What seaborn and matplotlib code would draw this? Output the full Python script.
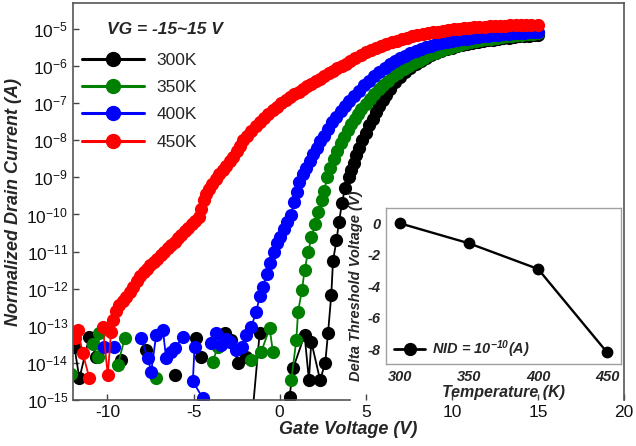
import numpy as np
import pandas as pd
import matplotlib
matplotlib.use('Agg')
import matplotlib.pyplot as plt
from matplotlib.lines import Line2D
from matplotlib.ticker import NullLocator
import seaborn as sns

nan = np.nan

# Transfer curves: gate voltage (V) and log10 of normalized drain current (A)
# nan marks a break in the drawn line (noise floor points)
v300 = [-11.92, -11.63, -11.05, -10.66, nan, -9.2, nan, -7.75, nan, -6.1, nan, -4.84, -4.55, nan,
        -3.2, -2.81, -2.42, -1.94, nan, -1.7, -1.16, nan,
        0.58, 0.78, 1.45, 1.7, 1.84, 2.35, 2.65, 2.81, 3.0, 3.1, 3.3, 3.45, 3.62, 3.8, 4.0, 4.15,
        4.3, 4.45, 4.6, 4.8, 5.0, 5.2, 5.4, 5.6, 5.8, 6.0, 6.2, 6.4, 6.7, 7.0, 7.3, 7.6, 7.9, 8.2,
        8.5, 8.8, 9.1, 9.4, 9.7, 10.0, 10.3, 10.6, 10.9, 11.2, 11.5, 11.8, 12.1, 12.4, 12.7, 13.0,
        13.3, 13.6, 13.9, 14.2, 14.5, 14.8, 15.0]
e300 = [-13.56, -14.42, -13.29, -13.83, nan, -13.92, nan, -13.65, nan, -14.33, nan, -13.34, -13.83, nan,
        -13.2, -13.38, -14.01, -13.83, nan, -16.0, -13.2, nan,
        -14.91, -14.15, -13.25, -14.46, -13.43, -14.46, -14.0, -13.2, -12.17, -11.25, -10.7, -10.2,
        -9.7, -9.28, -9.0, -8.8, -8.6, -8.4, -8.22, -8.0, -7.8, -7.6, -7.42, -7.25, -7.08, -6.92,
        -6.77, -6.62, -6.44, -6.29, -6.16, -6.04, -5.94, -5.85, -5.77, -5.7, -5.64, -5.59, -5.54,
        -5.5, -5.46, -5.43, -5.4, -5.37, -5.35, -5.33, -5.31, -5.29, -5.27, -5.25, -5.23, -5.21,
        -5.2, -5.19, -5.18, -5.17, -5.16]

v350 = [-12.1, nan, -10.85, -10.56, -10.47, nan, -9.4, -9.0, nan, -7.17, nan, -3.88, -3.59, nan,
        -1.65, -1.07, -0.58, -0.39, nan,
        0.68, 0.97, 1.07, 1.3, 1.45, 1.65, 1.85, 2.05, 2.25, 2.45, 2.6, 2.75, 2.95, 3.15, 3.35, 3.55,
        3.75, 3.95, 4.15, 4.35, 4.55, 4.75, 5.0, 5.25, 5.5, 5.75, 6.0, 6.3, 6.6, 6.9, 7.2, 7.5, 7.8,
        8.1, 8.4, 8.7, 9.0, 9.3, 9.6, 9.9, 10.2, 10.5, 10.8, 11.1, 11.4, 11.7, 12.0, 12.3, 12.6,
        12.9, 13.2, 13.5, 13.8, 14.1, 14.4, 14.7, 15.0]
e350 = [-14.3, nan, -13.5, -13.83, -13.2, nan, -14.06, -13.34, nan, -14.42, nan, -13.97, -13.56, nan,
        -13.92, -13.7, -13.07, -13.7, nan,
        -14.46, -13.38, -12.62, -12.03, -11.5, -11.02, -10.62, -10.26, -9.94, -9.62, -9.36, -9.0,
        -8.75, -8.5, -8.28, -8.08, -7.9, -7.72, -7.56, -7.42, -7.28, -7.16, -7.02, -6.88, -6.75,
        -6.63, -6.52, -6.39, -6.28, -6.18, -6.09, -6.0, -5.92, -5.85, -5.78, -5.71, -5.65, -5.6,
        -5.55, -5.5, -5.46, -5.42, -5.39, -5.36, -5.33, -5.3, -5.28, -5.26, -5.24, -5.22, -5.2,
        -5.18, -5.17, -5.15, -5.14, -5.13, -5.12]

v400 = [-10.2, -9.6, nan, -8.04, -7.65, -7.46, -7.17, -6.78, -6.59, -6.3, -6.05, -5.62, nan,
        -4.94, -5.04, -4.46, nan,
        -3.97, -3.68, -3.39, -3.1, -2.91, -2.52, -2.2, -1.94, -1.65, -1.36, -1.16, -0.97, -0.75,
        -0.55, -0.35, -0.15, 0.05, 0.25, 0.45, 0.65, 0.85, 1.0, 1.15, 1.35, 1.55, 1.75, 1.95, 2.15,
        2.35, 2.55, 2.8, 3.05, 3.3, 3.55, 3.8, 4.05, 4.3, 4.6, 4.9, 5.2, 5.5, 5.8, 6.1, 6.4, 6.7,
        7.0, 7.3, 7.6, 7.9, 8.2, 8.5, 8.8, 9.1, 9.4, 9.7, 10.0, 10.3, 10.6, 10.9, 11.2, 11.5, 11.8,
        12.1, 12.4, 12.7, 13.0, 13.3, 13.6, 13.9, 14.2, 14.5, 14.8, 15.0]
e400 = [-13.56, -13.56, nan, -13.34, -13.88, -14.24, -13.25, -13.11, -13.88, -13.7, -13.6, -13.29, nan,
        -13.56, -14.5, -14.95, nan,
        -13.47, -13.2, -13.52, -13.35, -13.43, -13.65, -13.56, -13.25, -13.02, -12.64, -12.2,
        -11.95, -11.6, -11.3, -11.0, -10.78, -10.6, -10.4, -10.2, -10.02, -9.65, -9.4, -9.12,
        -8.92, -8.75, -8.55, -8.37, -8.2, -8.03, -7.88, -7.7, -7.52, -7.36, -7.21, -7.07, -6.93,
        -6.8, -6.66, -6.52, -6.39, -6.27, -6.15, -6.04, -5.95, -5.87, -5.79, -5.72, -5.65, -5.59,
        -5.54, -5.49, -5.45, -5.41, -5.38, -5.35, -5.32, -5.3, -5.28, -5.26, -5.24, -5.22, -5.2,
        -5.18, -5.17, -5.15, -5.14, -5.13, -5.12, -5.11, -5.1, -5.09, -5.08, -5.07]

v450 = [-11.9, -11.72, -11.43, -11.05, nan, -10.27, -9.98, -9.79, -9.69, -9.5, -9.3, -9.1, -8.9,
        -8.7, -8.5, -8.3, -8.1, -7.9, -7.7, -7.5, -7.3, -7.1, -6.9, -6.7, -6.5, -6.3, -6.1, -5.9,
        -5.7, -5.5, -5.3, -5.1, -4.9, -4.7, -4.55, -4.4, -4.25, -4.1, -3.9, -3.7, -3.5, -3.3, -3.1,
        -2.9, -2.7, -2.5, -2.3, -2.1, -1.9, -1.65, -1.4, -1.15, -0.9, -0.65, -0.4, -0.15, 0.1, 0.35,
        0.6, 0.85, 1.1, 1.35, 1.6, 1.85, 2.1, 2.35, 2.6, 2.85, 3.1, 3.35, 3.6, 3.85, 4.1, 4.4, 4.7,
        5.0, 5.3, 5.6, 5.9, 6.2, 6.5, 6.8, 7.1, 7.4, 7.7, 8.0, 8.3, 8.6, 8.9, 9.2, 9.5, 9.8, 10.1,
        10.4, 10.7, 11.0, 11.3, 11.6, 11.9, 12.2, 12.5, 12.8, 13.1, 13.4, 13.7, 14.0, 14.3, 14.6, 15.0]
e450 = [-13.33, -13.11, -13.74, -14.41, nan, -13.02, -14.33, -13.16, -12.84, -12.6, -12.45, -12.33,
        -12.22, -12.1, -11.95, -11.8, -11.67, -11.56, -11.46, -11.37, -11.28, -11.19, -11.1, -11.0,
        -10.91, -10.82, -10.73, -10.64, -10.55, -10.45, -10.36, -10.26, -10.17, -10.08, -9.85, -9.6,
        -9.45, -9.32, -9.18, -9.04, -8.92, -8.8, -8.68, -8.56, -8.44, -8.3, -8.15, -8.0, -7.88,
        -7.75, -7.62, -7.5, -7.39, -7.28, -7.18, -7.09, -7.0, -6.92, -6.84, -6.76, -6.69, -6.62,
        -6.55, -6.48, -6.41, -6.34, -6.27, -6.2, -6.13, -6.06, -6.0, -5.94, -5.87, -5.79, -5.71,
        -5.63, -5.57, -5.51, -5.46, -5.41, -5.36, -5.32, -5.28, -5.24, -5.2, -5.17, -5.14, -5.11,
        -5.09, -5.07, -5.05, -5.03, -5.01, -4.99, -4.98, -4.97, -4.96, -4.95, -4.94, -4.93, -4.92,
        -4.91, -4.91, -4.9, -4.9, -4.89, -4.89, -4.88, -4.88]

temp_labels = ['300K', '350K', '400K', '450K']
colors = ['#000000', '#008000', '#0000ff', '#ff0000']
ytick_vals = [1e-15, 1e-14, 1e-13, 1e-12, 1e-11, 1e-10, 1e-9, 1e-8, 1e-7, 1e-6, 1e-5]

# inset: threshold voltage shift vs temperature
temps = [300, 350, 400, 450]
dvth = [0, -1.27, -2.9, -8.2]

sns.set_theme(style='ticks')
plt.rcParams['font.family'] = ['Liberation Sans', 'DejaVu Sans']
plt.rcParams['mathtext.fontset'] = 'custom'
plt.rcParams['mathtext.rm'] = 'Liberation Sans'
plt.rcParams['mathtext.it'] = 'Liberation Sans:italic'
plt.rcParams['mathtext.bf'] = 'Liberation Sans:bold'
plt.rcParams['axes.unicode_minus'] = False

# long-form table, one unit per unbroken line piece
frames = []
for lab, v, e in zip(temp_labels, [v300, v350, v400, v450], [e300, e350, e400, e450]):
    d = pd.DataFrame({'V': v, 'logI': e})
    d['seg'] = lab + '-' + d['logI'].isna().cumsum().astype(str)
    d = d.dropna()
    d['I'] = 10 ** d['logI']
    d['T'] = lab
    frames.append(d)
df = pd.concat(frames, ignore_index=True)

fig = plt.figure(figsize=(6.36, 4.46), dpi=100)
ax = fig.add_axes([73 / 636, 1 - 400 / 446, 551 / 636, 397 / 446])
ax.set_yscale('log')

sns.lineplot(data=df, x='V', y='I', hue='T', units='seg', estimator=None, sort=False,
             palette=colors, hue_order=temp_labels, marker='o', markersize=9.5,
             markeredgewidth=0, linewidth=1.3, legend=False, ax=ax)

ax.set_xlim(-12, 20)
ax.set_ylim(1e-15, 10 ** -4.3)
ax.set_xticks([-10, -5, 0, 5, 10, 15, 20])
ax.set_yticks(ytick_vals)
ax.yaxis.set_minor_locator(NullLocator())
ax.tick_params(labelsize=12.5, direction='in', length=4, width=1, colors='#444444')
ax.tick_params(labelcolor='#111111')
for s in ax.spines.values():
    s.set_color('#555555')
    s.set_linewidth(1.2)
ax.spines['bottom'].set_bounds(-12, 4.1)
ax.set_xlabel('Gate Voltage (V)', fontsize=13, fontweight='bold', style='italic', labelpad=1)
ax.set_ylabel('Normalized Drain Current (A)', fontsize=13, fontweight='bold', style='italic', labelpad=3)

ax.text(0.062, 0.934, 'VG = -15~15 V', transform=ax.transAxes, fontsize=12.5,
        fontweight='bold', style='italic', ha='left', va='center')

handles = [Line2D([], [], color=c, marker='o', markersize=10, lw=2.2) for c in colors]
ax.legend(handles, temp_labels, loc='upper left', bbox_to_anchor=(0.016, 0.875), frameon=False,
          fontsize=12.5, handlelength=3.6, handletextpad=0.7, labelspacing=0.7,
          borderpad=0, borderaxespad=0)

# inset
axi = fig.add_axes([386 / 636, 1 - 364 / 446, 235 / 636, 156 / 446])
axi.set_facecolor('white')
sns.lineplot(x=temps, y=dvth, color='black', marker='o', markersize=8.5, markeredgewidth=0,
             linewidth=1.7, ax=axi)
axi.set_xlim(290, 460)
axi.set_ylim(-8.93, 0.97)
axi.set_xticks(temps)
axi.set_yticks([0, -2, -4, -6, -8])
axi.tick_params(length=0, pad=4, labelsize=10.5)
for lab in axi.get_xticklabels() + axi.get_yticklabels():
    lab.set_fontweight('bold')
    lab.set_style('italic')
for s in axi.spines.values():
    s.set_color('#a0a0a0')
    s.set_linewidth(1)
axi.set_xlabel('Temperature (K)', fontsize=11.5, fontweight='bold', style='italic', labelpad=1)
axi.set_ylabel('Delta Threshold Voltage (V)', fontsize=10.5, fontweight='bold', style='italic', labelpad=3)
axi.legend([Line2D([], [], color='black', marker='o', markersize=8.5, lw=2)],
           [r'NID = $\mathdefault{10^{-10}}$(A)'], loc='center left', bbox_to_anchor=(0.035, 0.096),
           frameon=False, handlelength=2.1, handletextpad=0.5, borderpad=0, borderaxespad=0,
           prop={'weight': 'bold', 'style': 'italic', 'size': 10.5})

fig.savefig('out.png', dpi=100)
